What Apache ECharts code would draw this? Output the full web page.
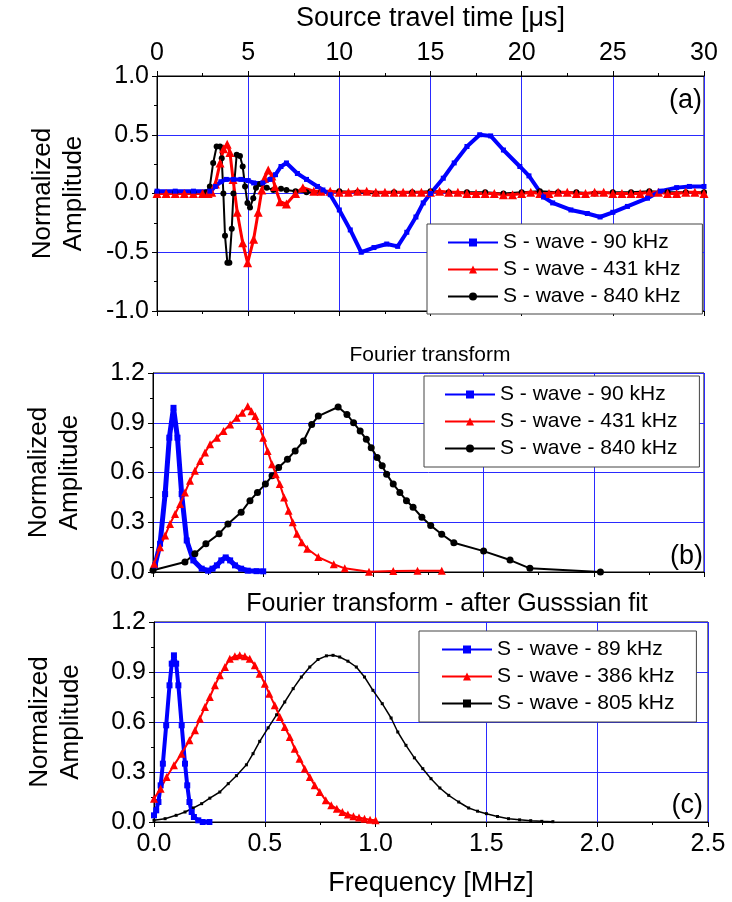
<!DOCTYPE html>
<html>
<head>
<meta charset="utf-8">
<title>S-wave amplitude and spectra</title>
<script src="https://cdn.jsdelivr.net/npm/echarts@6/dist/echarts.min.js"></script>
<style>
html, body { margin: 0; padding: 0; background: #fff; }
#chart { width: 732px; height: 902px; }
</style>
</head>
<body>
<div id="chart"></div>
<script>
// (a) waveforms vs source travel time [us]
const time90 = [0, 1, 2, 2.9, 3.2, 3.5, 3.8, 4.2, 4.6, 5.0, 5.3, 5.8, 6.2, 6.5, 6.8, 7.1, 7.7, 8.2, 8.8, 9.1, 9.5, 10.0, 10.6, 11.2, 11.9, 12.6, 13.2, 13.7, 14.2, 14.6, 15.0, 15.7, 16.3, 17.0, 17.7, 18.3, 19.0, 19.9, 20.4, 21.2, 21.7, 22.7, 23.6, 24.3, 25.0, 25.8, 26.9, 27.6, 28.5, 29.2, 30];
const amp90 = [0.02, 0.02, 0.02, 0.02, 0.06, 0.10, 0.12, 0.12, 0.12, 0.11, 0.09, 0.09, 0.12, 0.16, 0.23, 0.26, 0.17, 0.12, 0.06, 0.03, -0.01, -0.14, -0.31, -0.50, -0.46, -0.43, -0.45, -0.33, -0.20, -0.08, 0.0, 0.13, 0.26, 0.40, 0.50, 0.49, 0.37, 0.23, 0.15, -0.03, -0.08, -0.14, -0.17, -0.20, -0.16, -0.11, -0.04, 0.02, 0.05, 0.06, 0.06];

const time431 = [0, 0.5, 1, 1.5, 2, 2.5, 2.8, 3.0, 3.2, 3.46, 3.65, 3.85, 4.0, 4.17, 4.4, 4.7, 4.97, 5.3, 5.55, 5.75, 5.9, 6.1, 6.3, 6.47, 6.75, 7.1, 7.6, 8.0, 8.6, 9.0, 9.5, 10.0, 10.5, 11.0, 11.5, 12.0, 12.5, 13.0, 13.5, 14.0, 14.5, 15.0, 15.5, 16.0, 16.5, 17.0, 17.5, 18.0, 18.5, 19.0, 19.5, 20.0, 20.5, 21.0, 21.5, 22.0, 22.5, 23.0, 23.5, 24.0, 24.5, 25.0, 25.5, 26.0, 26.5, 27.0, 27.5, 28.0, 28.5, 29.0, 29.5, 30];
const amp431 = [0.0, 0.0, 0.0, 0.0, 0.0, 0.0, 0.0, 0.01, 0.08, 0.26, 0.38, 0.42, 0.35, 0.12, -0.16, -0.42, -0.59, -0.39, -0.16, 0.03, 0.13, 0.20, 0.15, 0.06, -0.07, -0.09, 0.0, 0.05, 0.02, 0.02, 0.02, 0.01, 0.01, 0.02, 0.02, 0.01, 0.01, 0.01, 0.01, 0.01, 0.01, 0.01, 0.02, 0.01, 0.01, 0.0, 0.0, 0.0, 0.0, -0.01, -0.01, 0.0, 0.01, 0.0, 0.0, 0.01, 0.01, 0.0, 0.0, 0.01, 0.01, 0.0, 0.0, 0.0, 0.0, 0.01, 0.01, 0.0, 0.0, 0.01, 0.01, 0.0];

const time840 = [0, 1, 2, 2.7, 2.9, 3.08, 3.27, 3.46, 3.55, 3.64, 3.73, 3.86, 3.97, 4.1, 4.19, 4.37, 4.55, 4.7, 4.83, 4.96, 5.1, 5.28, 5.43, 5.65, 6.02, 6.38, 6.8, 7.1, 7.6, 8.2, 9, 10, 11, 12, 13, 14, 15, 16, 17, 18, 19, 20, 21, 22, 23, 24, 25, 26, 27, 28, 29, 30];
const amp840 = [0.01, 0.01, 0.01, 0.01, 0.06, 0.26, 0.40, 0.40, 0.30, 0.0, -0.36, -0.59, -0.59, -0.30, 0.0, 0.33, 0.32, 0.23, 0.06, -0.08, -0.12, -0.04, 0.05, 0.08, 0.05, 0.03, 0.04, 0.03, 0.02, 0.01, 0.01, 0.02, 0.01, 0.0, 0.01, 0.01, 0.02, 0.01, 0.01, 0.01, 0.0, 0.01, 0.02, 0.01, 0.01, 0.0, 0.01, 0.01, 0.02, 0.01, 0.01, 0.01];

// (b) Fourier transform [MHz]
const freqB90 = [0.009, 0.032, 0.055, 0.074, 0.093, 0.111, 0.13, 0.153, 0.183, 0.221, 0.25, 0.27, 0.29, 0.31, 0.33, 0.35, 0.372, 0.40, 0.43, 0.47, 0.50];
const specB90 = [0.04, 0.17, 0.47, 0.81, 0.99, 0.81, 0.47, 0.19, 0.07, 0.02, 0.008, 0.02, 0.04, 0.07, 0.088, 0.07, 0.04, 0.02, 0.008, 0.005, 0.004];

const freqB431 = [0.005, 0.032, 0.055, 0.077, 0.10, 0.123, 0.145, 0.168, 0.19, 0.214, 0.236, 0.259, 0.29, 0.32, 0.35, 0.38, 0.405, 0.43, 0.447, 0.464, 0.482, 0.50, 0.52, 0.54, 0.557, 0.575, 0.595, 0.615, 0.634, 0.653, 0.675, 0.70, 0.75, 0.82, 0.87, 0.98, 1.09, 1.2, 1.31];
const specB431 = [0.05, 0.15, 0.22, 0.29, 0.35, 0.41, 0.48, 0.55, 0.61, 0.67, 0.72, 0.77, 0.81, 0.85, 0.89, 0.93, 0.96, 1.0, 0.97, 0.94, 0.88, 0.81, 0.73, 0.65, 0.59, 0.53, 0.45, 0.37, 0.30, 0.23, 0.18, 0.14, 0.09, 0.047, 0.022, 0.002, 0.006, 0.008, 0.008];

const freqB840 = [0.0, 0.145, 0.19, 0.24, 0.30, 0.34, 0.40, 0.44, 0.474, 0.51, 0.54, 0.57, 0.61, 0.645, 0.683, 0.72, 0.75, 0.84, 0.88, 0.91, 0.94, 0.968, 0.99, 1.017, 1.04, 1.06, 1.09, 1.12, 1.15, 1.18, 1.22, 1.26, 1.31, 1.365, 1.50, 1.62, 1.71, 2.03];
const specB840 = [0.01, 0.06, 0.11, 0.17, 0.23, 0.29, 0.36, 0.43, 0.48, 0.53, 0.58, 0.63, 0.68, 0.73, 0.79, 0.89, 0.94, 0.995, 0.95, 0.90, 0.85, 0.80, 0.75, 0.69, 0.64, 0.59, 0.53, 0.48, 0.43, 0.39, 0.33, 0.28, 0.228, 0.176, 0.126, 0.072, 0.022, 0.0];

// (c) Fourier transform after Gaussian fit [MHz]
const freqC89 = [0.0, 0.01, 0.02, 0.03, 0.04, 0.055, 0.07, 0.08, 0.09, 0.10, 0.11, 0.125, 0.14, 0.15, 0.16, 0.17, 0.18, 0.20, 0.22, 0.25];
const specC89 = [0.04, 0.07, 0.12, 0.22, 0.35, 0.58, 0.82, 0.95, 1.0, 0.95, 0.82, 0.58, 0.35, 0.22, 0.12, 0.06, 0.03, 0.01, 0.0, 0.0];

const freqC386 = [0.0, 0.03, 0.057, 0.09, 0.124, 0.16, 0.185, 0.207, 0.23, 0.252, 0.275, 0.297, 0.32, 0.342, 0.365, 0.387, 0.41, 0.432, 0.455, 0.477, 0.50, 0.52, 0.545, 0.568, 0.59, 0.613, 0.635, 0.657, 0.68, 0.703, 0.725, 0.748, 0.775, 0.80, 0.825, 0.85, 0.875, 0.90, 0.925, 0.95, 0.975, 1.0];
const specC386 = [0.14, 0.20, 0.27, 0.34, 0.41, 0.49, 0.55, 0.62, 0.69, 0.75, 0.82, 0.88, 0.93, 0.98, 0.995, 1.0, 0.995, 0.98, 0.94, 0.89, 0.83, 0.77, 0.70, 0.63, 0.57, 0.51, 0.44, 0.38, 0.32, 0.27, 0.22, 0.18, 0.13, 0.10, 0.08, 0.06, 0.045, 0.035, 0.027, 0.02, 0.014, 0.01];

const freqC805 = [0.0, 0.05, 0.1, 0.14, 0.177, 0.215, 0.252, 0.297, 0.335, 0.372, 0.417, 0.447, 0.477, 0.515, 0.553, 0.59, 0.628, 0.665, 0.703, 0.74, 0.778, 0.808, 0.838, 0.875, 0.913, 0.95, 0.988, 1.03, 1.07, 1.1, 1.137, 1.175, 1.213, 1.25, 1.29, 1.33, 1.375, 1.42, 1.46, 1.5, 1.55, 1.6, 1.65, 1.7, 1.75, 1.8];
const specC805 = [0.01, 0.02, 0.04, 0.06, 0.084, 0.11, 0.143, 0.18, 0.23, 0.278, 0.343, 0.41, 0.484, 0.565, 0.643, 0.72, 0.80, 0.87, 0.93, 0.975, 0.997, 1.0, 0.99, 0.965, 0.93, 0.87, 0.79, 0.71, 0.624, 0.54, 0.46, 0.385, 0.32, 0.26, 0.204, 0.16, 0.12, 0.084, 0.065, 0.05, 0.033, 0.02, 0.013, 0.008, 0.004, 0.002];

const namesRaw = ['S - wave - 90 kHz', 'S - wave - 431 kHz', 'S - wave - 840 kHz'];
const namesFit = ['S - wave - 89 kHz', 'S - wave - 386 kHz', 'S - wave - 805 kHz'];

const FONT = '"Liberation Sans", Arial, sans-serif';
const GRID_BLUE = '#2a2aff';

function pairs(xs, ys) {
  return xs.map((x, i) => [x, ys[i]]);
}

// common axis look: black line, outward ticks, blue grid
function axisBase(extra) {
  return Object.assign({
    type: 'value',
    axisLine: { show: true, onZero: false, lineStyle: { color: '#000', width: 1 } },
    axisTick: { show: true, inside: false, length: 5, lineStyle: { color: '#000' } },
    minorTick: { show: true, splitNumber: 2, length: 3, lineStyle: { color: '#000' } },
    axisLabel: { show: false, color: '#000', fontSize: 25, fontFamily: FONT },
    splitLine: { show: true, lineStyle: { color: GRID_BLUE, width: 1 } },
    nameTextStyle: { color: '#000', fontFamily: FONT }
  }, extra);
}

function yAxisFor(gridIndex, min, max, interval) {
  return axisBase({
    gridIndex: gridIndex, min: min, max: max, interval: interval,
    axisLabel: { show: true, color: '#000', fontSize: 25, fontFamily: FONT, margin: 8,
      formatter: v => v.toFixed(1) },
    name: 'Normalized\nAmplitude',
    nameLocation: 'middle',
    nameGap: 68,
    nameTextStyle: { color: '#000', fontFamily: FONT, fontSize: 26, lineHeight: 31 }
  });
}

function lineSeries(name, data, xi, yi, color, symbol, size, width) {
  return {
    name: name, type: 'line', xAxisIndex: xi, yAxisIndex: yi, data: data,
    symbol: symbol, symbolSize: size, showAllSymbol: true,
    lineStyle: { color: color, width: width },
    itemStyle: { color: color, borderWidth: 0 },
    emphasis: { disabled: true }
  };
}

function legendFor(names, left, top, padding) {
  return {
    orient: 'vertical', left: left, top: top,
    data: names,
    itemWidth: 50, itemHeight: 10, itemGap: 6,
    padding: padding,
    borderColor: '#444', borderWidth: 1, backgroundColor: '#fff',
    textStyle: { color: '#000', fontSize: 21, fontFamily: FONT, lineHeight: 20 },
    selectedMode: false
  };
}

function label(text, x, y, size, align) {
  return {
    type: 'text', x: x, y: y,
    style: { text: text, fontSize: size, fontFamily: FONT, fill: '#000', align: align, verticalAlign: 'middle' }
  };
}

const chart = echarts.init(document.getElementById('chart'));

chart.setOption({
  animation: false,
  backgroundColor: '#fff',
  grid: [
    { left: 157, top: 76, width: 547, height: 235, show: true, borderColor: '#000', borderWidth: 1 },
    { left: 153, top: 373, width: 551, height: 199, show: true, borderColor: '#000', borderWidth: 1 },
    { left: 154, top: 622, width: 554, height: 200, show: true, borderColor: '#000', borderWidth: 1 }
  ],
  xAxis: [
    axisBase({
      gridIndex: 0, position: 'top', min: 0, max: 30, interval: 5,
      axisLabel: { show: true, color: '#000', fontSize: 25, fontFamily: FONT, margin: 10 },
      name: 'Source travel time [\u03bcs]', nameLocation: 'middle', nameGap: 44,
      nameTextStyle: { color: '#000', fontFamily: FONT, fontSize: 27 }
    }),
    axisBase({ gridIndex: 0, position: 'bottom', min: 0, max: 30, interval: 5, splitLine: { show: false } }),
    axisBase({ gridIndex: 1, position: 'bottom', min: 0, max: 2.5, interval: 0.5 }),
    axisBase({
      gridIndex: 2, position: 'bottom', min: 0, max: 2.5, interval: 0.5,
      axisLabel: { show: true, color: '#000', fontSize: 25, fontFamily: FONT, margin: 10,
        formatter: v => v.toFixed(1) },
      name: 'Frequency [MHz]', nameLocation: 'middle', nameGap: 48,
      nameTextStyle: { color: '#000', fontFamily: FONT, fontSize: 27 }
    })
  ],
  yAxis: [
    yAxisFor(0, -1, 1, 0.5),
    yAxisFor(1, 0, 1.2, 0.3),
    yAxisFor(2, 0, 1.2, 0.3)
  ],
  legend: [
    legendFor(namesRaw, 427, 224, [8, 22, 7, 20]),
    legendFor(namesRaw, 424, 376, [8, 22, 8, 20]),
    legendFor(namesFit, 419, 631, [8, 22, 8, 22])
  ],
  graphic: [
    label('(a)', 702, 101, 27, 'right'),
    label('(b)', 703, 557, 27, 'right'),
    label('(c)', 703, 806, 27, 'right'),
    label('Fourier transform', 430, 355, 21, 'center'),
    label('Fourier transform - after Gusssian fit', 447, 604, 25, 'center')
  ],
  series: [
    lineSeries(namesRaw[2], pairs(time840, amp840), 0, 0, '#000', 'circle', 6, 2),
    lineSeries(namesRaw[1], pairs(time431, amp431), 0, 0, '#ff0000', 'triangle', 9, 3),
    lineSeries(namesRaw[0], pairs(time90, amp90), 0, 0, '#0000ff', 'rect', 5, 4),

    lineSeries(namesRaw[2], pairs(freqB840, specB840), 2, 1, '#000', 'circle', 7, 2),
    lineSeries(namesRaw[0], pairs(freqB90, specB90), 2, 1, '#0000ff', 'rect', 6, 5),
    lineSeries(namesRaw[1], pairs(freqB431, specB431), 2, 1, '#ff0000', 'triangle', 8, 2),

    lineSeries(namesFit[2], pairs(freqC805, specC805), 3, 2, '#000', 'rect', 3, 1.5),
    lineSeries(namesFit[0], pairs(freqC89, specC89), 3, 2, '#0000ff', 'rect', 6, 4),
    lineSeries(namesFit[1], pairs(freqC386, specC386), 3, 2, '#ff0000', 'triangle', 8, 2)
  ]
});
</script>
</body>
</html>
